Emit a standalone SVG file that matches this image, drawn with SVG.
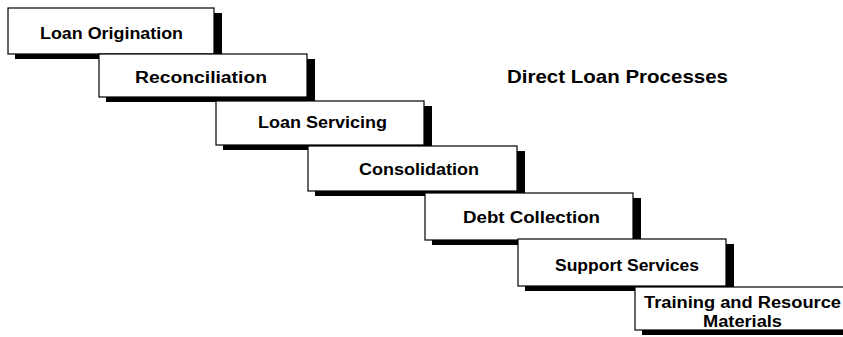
<svg xmlns="http://www.w3.org/2000/svg" width="843" height="337" viewBox="0 0 843 337">
  <style>
    .shadow { fill: #000; }
    .box { fill: #fff; stroke: #000; stroke-width: 1.2; }
    .label { font-family: "Liberation Sans", Arial, sans-serif; font-weight: bold; font-size: 16px; fill: #000; }
    .title { font-family: "Liberation Sans", Arial, sans-serif; font-weight: bold; font-size: 18.5px; fill: #000; }
  </style>
  <rect width="843" height="337" fill="#fff"/>

  <!-- staircase of process steps; each step casts a drop shadow down and to the right -->
  <g id="loan-origination">
    <rect class="shadow" x="15" y="13" width="207" height="46"/>
    <rect class="box" x="8" y="8" width="206" height="46"/>
    <text class="label" x="40" y="39" textLength="143" lengthAdjust="spacingAndGlyphs">Loan Origination</text>
  </g>
  <g id="reconciliation">
    <rect class="shadow" x="106" y="59" width="209" height="43"/>
    <rect class="box" x="99" y="54" width="208" height="43"/>
    <text class="label" x="135" y="83" textLength="132" lengthAdjust="spacingAndGlyphs">Reconciliation</text>
  </g>
  <g id="loan-servicing">
    <rect class="shadow" x="223" y="106" width="209" height="44"/>
    <rect class="box" x="216" y="101" width="208" height="44"/>
    <text class="label" x="258" y="128" textLength="129" lengthAdjust="spacingAndGlyphs">Loan Servicing</text>
  </g>
  <g id="consolidation">
    <rect class="shadow" x="315" y="151" width="210" height="45"/>
    <rect class="box" x="308" y="146" width="209" height="45"/>
    <text class="label" x="359" y="175" textLength="120" lengthAdjust="spacingAndGlyphs">Consolidation</text>
  </g>
  <g id="debt-collection">
    <rect class="shadow" x="432" y="198" width="209" height="47"/>
    <rect class="box" x="425" y="193" width="208" height="47"/>
    <text class="label" x="463" y="223" textLength="137" lengthAdjust="spacingAndGlyphs">Debt Collection</text>
  </g>
  <g id="support-services">
    <rect class="shadow" x="525" y="244" width="209" height="47"/>
    <rect class="box" x="518" y="239" width="208" height="47"/>
    <text class="label" x="555" y="271" textLength="144" lengthAdjust="spacingAndGlyphs">Support Services</text>
  </g>
  <g id="training-resource-materials">
    <rect class="shadow" x="642" y="292" width="215" height="43"/>
    <rect class="box" x="635" y="287" width="215" height="43"/>
    <text class="label" x="644" y="308" textLength="197" lengthAdjust="spacingAndGlyphs">Training and Resource</text>
    <text class="label" x="703" y="327" textLength="79" lengthAdjust="spacingAndGlyphs">Materials</text>
  </g>

  <g id="title">
    <text class="title" x="507" y="83" textLength="221" lengthAdjust="spacingAndGlyphs">Direct Loan Processes</text>
  </g>

  <g id="connectors"></g>
</svg>
